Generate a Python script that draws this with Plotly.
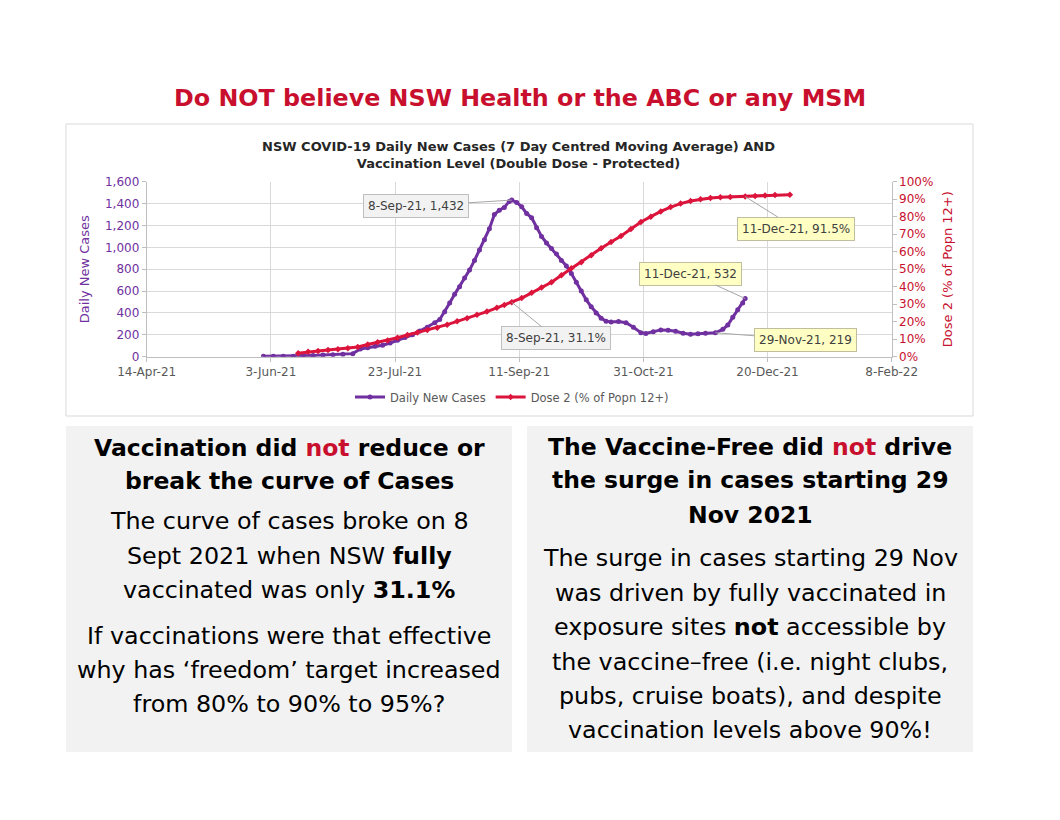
import plotly.graph_objects as go

# page is offset by the 8px body margin, so the figure is drawn 8px in
OFF = 8
W, H = 1060 - 2 * OFF, 820 - 2 * OFF

# --- data ---
case_dates = [
    "2021-05-31", "2021-06-04", "2021-06-08", "2021-06-12", "2021-06-16", "2021-06-20",
    "2021-06-24", "2021-06-28", "2021-07-02", "2021-07-06", "2021-07-09", "2021-07-12",
    "2021-07-15", "2021-07-18", "2021-07-21", "2021-07-24", "2021-07-27", "2021-07-30",
    "2021-08-02", "2021-08-05", "2021-08-08", "2021-08-10", "2021-08-12", "2021-08-14",
    "2021-08-16", "2021-08-18", "2021-08-20", "2021-08-22", "2021-08-24", "2021-08-26",
    "2021-08-28", "2021-08-30", "2021-09-01", "2021-09-03", "2021-09-05", "2021-09-07",
    "2021-09-08", "2021-09-10", "2021-09-12", "2021-09-14", "2021-09-16", "2021-09-18",
    "2021-09-20", "2021-09-22", "2021-09-24", "2021-09-26", "2021-09-28", "2021-09-30",
    "2021-10-02", "2021-10-04", "2021-10-06", "2021-10-08", "2021-10-10", "2021-10-12",
    "2021-10-14", "2021-10-16", "2021-10-18", "2021-10-21", "2021-10-24", "2021-10-27",
    "2021-10-30", "2021-11-01", "2021-11-04", "2021-11-07", "2021-11-10", "2021-11-13",
    "2021-11-16", "2021-11-19", "2021-11-22", "2021-11-25", "2021-11-29", "2021-12-02",
    "2021-12-04", "2021-12-06", "2021-12-08", "2021-12-10", "2021-12-11",
]
daily_cases = [
    3, 4, 4, 5, 8, 12,
    15, 18, 22, 28, 70, 82,
    95, 105, 125, 150, 175, 200,
    235, 270, 310, 340, 410, 490,
    570, 640, 720, 792, 880, 975,
    1070, 1170, 1300, 1340, 1365, 1420,
    1432, 1410, 1370, 1310, 1270, 1180,
    1100, 1040, 990, 940, 880, 830,
    760, 680, 600, 520, 457, 400,
    351, 325, 318, 322, 310, 270,
    220, 212, 228, 245, 242, 232,
    214, 205, 210, 215, 219, 250,
    290, 360, 430, 490, 532,
]

dose_dates = [
    "2021-06-14", "2021-06-18", "2021-06-22", "2021-06-26", "2021-06-30", "2021-07-04",
    "2021-07-08", "2021-07-12", "2021-07-16", "2021-07-20", "2021-07-24", "2021-07-28",
    "2021-08-01", "2021-08-05", "2021-08-09", "2021-08-13", "2021-08-17", "2021-08-21",
    "2021-08-25", "2021-08-29", "2021-09-02", "2021-09-05", "2021-09-08", "2021-09-12",
    "2021-09-16", "2021-09-20", "2021-09-24", "2021-09-28", "2021-10-02", "2021-10-06",
    "2021-10-10", "2021-10-14", "2021-10-18", "2021-10-22", "2021-10-26", "2021-10-30",
    "2021-11-03", "2021-11-07", "2021-11-11", "2021-11-15", "2021-11-19", "2021-11-23",
    "2021-11-27", "2021-12-01", "2021-12-05", "2021-12-11", "2021-12-15", "2021-12-19",
    "2021-12-23", "2021-12-29",
]
dose2_pct = [
    2.0, 2.8, 3.3, 3.8, 4.3, 4.9,
    5.6, 7.0, 8.3, 9.3, 10.8, 12.4,
    13.8, 15.3, 16.6, 18.3, 20.2, 22.0,
    24.0, 25.8, 27.9, 29.5, 31.1, 33.5,
    36.5, 39.5, 42.5, 46.5, 50.5, 54.0,
    58.0, 62.0, 65.5, 69.0, 73.0, 77.0,
    80.0, 83.0, 85.5, 87.5, 89.0, 90.0,
    90.7, 91.1, 91.3, 91.5, 91.8, 92.1,
    92.4, 92.6,
]

x_tick_start = "2021-04-14"
x_range = ["2021-04-14", "2022-02-08"]

PURPLE = "#7030a0"
RED = "#dc143c"
TXT_RED = "#c8102e"
FONT = "Verdana, DejaVu Sans, sans-serif"


def px(x):
    return (x - OFF) / W


def py(y):
    return 1 - (y - OFF) / H


def label_text(dates, values, date, fmt):
    v = values[dates.index(date)]
    d = date.split("-")
    month = ["Jan", "Feb", "Mar", "Apr", "May", "Jun", "Jul", "Aug", "Sep", "Oct", "Nov", "Dec"][int(d[1]) - 1]
    return f"{int(d[2])}-{month}-{d[0][2:]}, " + fmt.format(v)


fig = go.Figure()
fig.add_trace(go.Scatter(
    x=case_dates, y=daily_cases, name="Daily New Cases", mode="lines+markers",
    line=dict(color=PURPLE, width=3), marker=dict(color=PURPLE, size=5),
))
fig.add_trace(go.Scatter(
    x=dose_dates, y=dose2_pct, name="Dose 2 (% of Popn 12+)", mode="lines+markers",
    line=dict(color=RED, width=3), marker=dict(color=RED, size=5, symbol="diamond"),
    yaxis="y2",
))

fig.update_layout(
    width=W, height=H, autosize=False,
    margin=dict(l=0, r=0, t=0, b=0, autoexpand=False),
    paper_bgcolor="white", plot_bgcolor="white",
    font=dict(family=FONT, size=11, color="#595959"),
    xaxis=dict(
        domain=[px(146.7), px(891.7)], range=x_range, type="date", automargin=False,
        tick0=x_tick_start, dtick=50 * 86400000, tickformat="%-d-%b-%y",
        showgrid=True, gridcolor="#d9d9d9", showline=True, linecolor="#bfbfbf",
        ticks="outside", ticklen=4, tickcolor="#bfbfbf", zeroline=False,
        tickfont=dict(size=12, color="#595959"),
    ),
    yaxis=dict(
        domain=[py(356.7), py(181.7)], range=[0, 1600], dtick=200, tickformat=",",
        automargin=False,
        showgrid=True, gridcolor="#d9d9d9", showline=True, linecolor="#bfbfbf",
        ticks="outside", ticklen=4, tickcolor="#bfbfbf", zeroline=False,
        tickfont=dict(size=12, color=PURPLE),
        title=dict(text="Daily New Cases", font=dict(size=13, color=PURPLE), standoff=12),
    ),
    yaxis2=dict(
        overlaying="y", side="right", range=[0, 100], dtick=10, ticksuffix="%",
        automargin=False,
        showgrid=False, showline=True, linecolor="#bfbfbf",
        ticks="outside", ticklen=4, tickcolor="#bfbfbf", zeroline=False,
        tickfont=dict(size=12, color=TXT_RED),
        title=dict(text="Dose 2 (% of Popn 12+)", font=dict(size=13, color=TXT_RED), standoff=10),
    ),
    legend=dict(
        orientation="h", x=px(512), xanchor="center", y=py(397), yanchor="middle",
        font=dict(size=11.5, color="#595959"), bgcolor="rgba(0,0,0,0)",
    ),
)

shapes = [
    dict(type="rect", xref="paper", yref="paper", x0=px(66), x1=px(973), y0=py(416), y1=py(124),
         line=dict(color="#d9d9d9", width=1), layer="below"),
    dict(type="rect", xref="paper", yref="paper", x0=px(66), x1=px(512), y0=py(752), y1=py(426),
         line=dict(width=0), fillcolor="#f2f2f2", layer="below"),
    dict(type="rect", xref="paper", yref="paper", x0=px(527), x1=px(973), y0=py(752), y1=py(426),
         line=dict(width=0), fillcolor="#f2f2f2", layer="below"),
]
fig.update_layout(shapes=shapes)

ann = []


def text(x, y, s, size, bold=False, color="#000000", family=FONT):
    if bold:
        s = f"<b>{s}</b>"
    ann.append(dict(xref="paper", yref="paper", x=px(x), y=py(y), text=s, showarrow=False,
                    xanchor="center", yanchor="middle", font=dict(size=size, color=color, family=family)))


text(520, 98, "Do NOT believe NSW Health or the ABC or any MSM", 23.8, True, TXT_RED)
text(518, 155, "NSW COVID-19 Daily New Cases (7 Day Centred Moving Average) AND<br>"
     "Vaccination Level (Double Dose - Protected)", 13, True, "#262626")

red_not = f"<span style='color:{TXT_RED}'>not</span>"
left_lines = [
    (448, f"Vaccination did {red_not} reduce or", True),
    (481, "break the curve of Cases", True),
    (521, "The curve of cases broke on 8", False),
    (556, "Sept 2021 when NSW <b>fully</b>", False),
    (590, "vaccinated was only <b>31.1%</b>", False),
    (636, "If vaccinations were that effective", False),
    (670, "why has \u2018freedom\u2019 target increased", False),
    (704, "from 80% to 90% to 95%?", False),
]
right_lines = [
    (447, f"The Vaccine-Free did {red_not} drive", True),
    (480, "the surge in cases starting 29", True),
    (515, "Nov 2021", True),
    (558, "The surge in cases starting 29 Nov", False),
    (593, "was driven by fully vaccinated in", False),
    (627, "exposure sites <b>not</b> accessible by", False),
    (662, "the vaccine\u2013free (i.e. night clubs,", False),
    (696, "pubs, cruise boats), and despite", False),
    (730, "vaccination levels above 90%!", False),
]
for y, s, b in left_lines:
    text(289, y, s, 23.5 if b else 23.8, b)
for y, s, b in right_lines:
    text(750, y, s, 23.5 if b else 23.8, b)

# data callouts
GREY_BOX = dict(bgcolor="#f2f2f2", bordercolor="#bfbfbf")
YEL_BOX = dict(bgcolor="#ffffc4", bordercolor="#bfbfa0")
callouts = [
    (case_dates, daily_cases, "2021-09-08", "{:,}", "y", -96, 6, GREY_BOX),
    (dose_dates, dose2_pct, "2021-09-08", "{:.1f}%", "y2", 44, 36, GREY_BOX),
    (case_dates, daily_cases, "2021-12-11", "{:,}", "y", -55, -25, YEL_BOX),
    (dose_dates, dose2_pct, "2021-12-11", "{:.1f}%", "y2", 51, 32, YEL_BOX),
    (case_dates, daily_cases, "2021-11-29", "{:,}", "y", 90, 7, YEL_BOX),
]
for dates, vals, d, fmt, yref, ax, ay, box in callouts:
    ann.append(dict(
        x=d, y=vals[dates.index(d)], xref="x", yref=yref,
        text=label_text(dates, vals, d, fmt), showarrow=True, arrowhead=0,
        arrowwidth=1, arrowcolor="#a6a6a6", ax=ax, ay=ay, borderpad=4, borderwidth=1,
        font=dict(size=12, color="#404040"), **box,
    ))

fig.update_layout(annotations=ann)

fig.write_html("out.html")
